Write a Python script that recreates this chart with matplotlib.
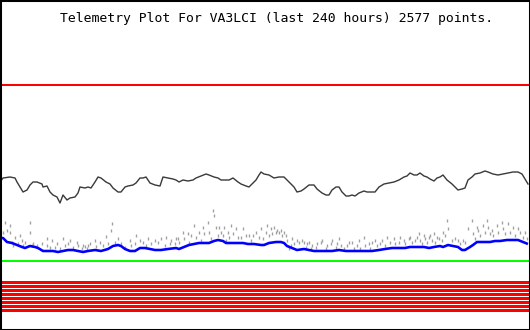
import matplotlib
matplotlib.use("Agg")
import matplotlib.pyplot as plt

# ---- data (x = sample column, y = plot level, top-down) ----
title_text = "Telemetry Plot For VA3LCI (last 240 hours) 2577 points."

red_top_level = 85
green_level = 261
red_stripe_levels = [281.5, 285.5, 289.5, 293.5, 297.5, 301.5, 305.5, 309.5]

black_x = [0, 3, 10, 15, 17, 20, 23, 27, 30, 33, 37, 42, 43, 47, 50, 53, 57, 60, 63, 67,
           70, 75, 78, 80, 85, 88, 91, 95, 98, 101, 106, 110, 113, 118, 121, 125, 128, 133,
           136, 140, 143, 146, 150, 155, 160, 163, 168, 173, 176, 179, 183, 188, 193, 196,
           201, 206, 209, 214, 218, 221, 226, 229, 233, 238, 241, 246, 249, 253, 256, 259,
           261, 264, 269, 274, 279, 284, 287, 291, 294, 297, 301, 304, 309, 314, 317, 322,
           326, 329, 332, 336, 339, 342, 346, 349, 352, 355, 359, 364, 367, 372, 375, 379,
           384, 389, 394, 399, 404, 407, 410, 414, 417, 420, 424, 427, 430, 434, 437, 440,
           443, 447, 452, 455, 458, 462, 465, 468, 472, 475, 480, 485, 488, 493, 498, 503,
           508, 513, 518, 522, 525, 528]
black_y = [182, 178, 177, 178, 182, 187, 192, 190, 185, 182, 182, 184, 187, 186, 192, 195,
           197, 203, 195, 200, 198, 197, 193, 187, 188, 187, 188, 182, 177, 178, 182, 184,
           188, 192, 192, 187, 186, 185, 183, 178, 178, 177, 183, 185, 186, 177, 178, 179,
           180, 182, 180, 181, 180, 178, 176, 174, 175, 177, 178, 180, 180, 180, 178, 182,
           184, 186, 187, 183, 180, 175, 172, 174, 175, 178, 177, 177, 180, 184, 187, 192,
           191, 189, 185, 185, 189, 193, 195, 195, 190, 187, 187, 192, 196, 196, 195, 196,
           193, 191, 192, 192, 192, 187, 184, 183, 182, 180, 177, 176, 173, 175, 175, 173,
           176, 177, 179, 181, 178, 177, 175, 180, 184, 187, 190, 189, 188, 180, 177, 174,
           173, 171, 172, 174, 175, 174, 173, 172, 172, 174, 179, 184]

blue_x = [0, 3, 7, 12, 17, 22, 25, 30, 35, 38, 43, 48, 53, 58, 63, 68, 73, 78, 83, 88, 95,
          101, 108, 113, 118, 121, 125, 130, 135, 140, 145, 150, 155, 161, 168, 176, 179,
          184, 189, 194, 199, 204, 209, 214, 218, 223, 226, 231, 238, 243, 248, 254, 261,
          264, 269, 276, 281, 284, 287, 292, 297, 304, 309, 314, 319, 326, 332, 339, 346,
          352, 359, 365, 372, 379, 385, 392, 399, 405, 410, 415, 420, 424, 429, 434, 440,
          443, 448, 453, 458, 462, 465, 470, 473, 477, 483, 490, 495, 500, 507, 513, 518,
          523, 528]
blue_y = [238, 238, 242, 243, 245, 247, 248, 246, 247, 248, 251, 251, 251, 252, 251, 250,
          250, 251, 252, 251, 250, 251, 249, 246, 245, 246, 249, 251, 251, 248, 248, 249,
          250, 250, 249, 248, 249, 247, 245, 244, 243, 243, 243, 241, 240, 241, 243, 243,
          243, 243, 244, 244, 245, 245, 243, 242, 242, 243, 246, 248, 250, 249, 250, 251,
          251, 251, 251, 250, 251, 251, 251, 251, 251, 250, 249, 248, 248, 248, 247, 247,
          247, 247, 248, 247, 246, 247, 245, 246, 247, 250, 250, 247, 245, 242, 242, 242,
          241, 241, 240, 240, 240, 242, 244]

gray_x = [3, 5, 7, 10, 10, 12, 13, 15, 18, 20, 22, 23, 25, 30, 30, 32, 33, 37, 42, 47, 47,
          50, 52, 55, 57, 60, 63, 65, 68, 70, 73, 77, 78, 82, 83, 85, 87, 88,
          90, 95, 96, 100, 103, 106, 108, 111, 112, 115, 118, 121, 125, 130, 131, 135, 136,
          140, 143, 146, 148, 151, 155, 158, 161, 165, 166, 170, 171, 175, 176,
          178, 179, 183, 184, 188, 189, 191, 194, 196, 199, 201, 203, 204, 208, 209, 211,
          213, 214, 216, 218, 219, 221, 223, 224, 226, 228, 229, 231, 233, 236, 238, 241,
          243, 246, 249, 251, 253, 256, 259, 261, 263,
          266, 267, 269, 271, 272, 274, 276, 277, 279, 281, 282, 284, 286, 287, 289, 291,
          292, 294, 297, 299, 302, 304, 306, 307, 309, 311, 312, 316, 317, 321, 322, 326,
          327, 331, 332, 336, 337, 339, 341, 344, 347, 349,
          352, 354, 357, 359, 360, 364, 365, 369, 370, 372, 375, 377, 380, 382, 385, 387,
          390, 394, 395, 399, 400, 404, 405, 409, 410, 412, 415, 417, 419, 420, 422, 424,
          425, 427, 429, 430, 432, 434, 435, 437, 439,
          442, 443, 445, 447, 448, 452, 455, 458, 460, 463, 465, 468, 472, 473, 475, 477,
          478, 480, 483, 485, 487, 488, 490, 492, 493, 497, 498, 502, 503, 505, 508, 510,
          513, 515, 518, 520, 523, 525, 527]
gray_y = [232, 222, 230, 225, 232, 242, 245, 237, 243, 235, 240, 245, 242, 222, 232, 245,
          243, 245, 243, 238, 245, 247, 240, 247, 243, 248, 238, 245, 243, 240, 247, 242,
          245, 248, 245, 246, 248, 245,
          243, 240, 246, 242, 245, 236, 243, 230, 223, 242, 238, 243, 247, 240, 245, 243,
          235, 240, 242, 245, 238, 243, 240, 242, 238, 245, 237, 243, 240, 243, 238,
          238, 242, 232, 238, 233, 242, 235, 225, 237, 232, 240, 227, 233, 222, 232, 238,
          210, 215, 227, 235, 227, 232, 235, 227, 240, 232, 237, 225, 233, 228, 237, 237,
          228, 235, 235, 240, 235, 232, 237, 228, 238,
          232, 225, 235, 228, 233, 227, 232, 230, 232, 230, 235, 232, 235, 240, 248, 245,
          238, 243, 240, 242, 240, 242, 247, 243, 242, 248, 245, 247, 243, 242, 240, 248,
          245, 243, 240, 247, 243, 238, 245, 248, 245, 242,
          242, 248, 245, 240, 248, 237, 245, 243, 248, 242, 240, 245, 243, 240, 245, 237,
          242, 238, 243, 242, 237, 240, 243, 238, 237, 242, 240, 237, 233, 240, 243, 235,
          238, 242, 237, 235, 240, 233, 242, 237, 238,
          240, 232, 235, 220, 228, 240, 238, 240, 243, 240, 242, 228, 220, 233, 238, 227,
          230, 235, 225, 232, 220, 227, 233, 230, 235, 225, 232, 222, 228, 233, 223, 232,
          227, 235, 228, 232, 237, 232, 238]

# ---- figure ----
W, H = 530, 330
fig = plt.figure(figsize=(W / 100, H / 100), dpi=100, facecolor="white")
ax = fig.add_axes([0, 0, 1, 1])
ax.set_xlim(0, W)
ax.set_ylim(H, 0)
ax.set_xticks([])
ax.set_yticks([])
for s in ax.spines.values():
    s.set_color("black")
    s.set_linewidth(2.2)

px = 0.72  # points per pixel at 100 dpi

ax.axhline(red_top_level, color="#ff0000", lw=2 * px, antialiased=False)
ax.axhline(green_level, color="#00ff00", lw=2 * px, antialiased=False)
for lvl in red_stripe_levels:
    ax.axhline(lvl, color="#ff0000", lw=3 * px, antialiased=False)

ax.plot(gray_x, gray_y, linestyle="none", marker="|", markersize=3 * px,
        markeredgewidth=1.35 * px, color="#a0a0a0", antialiased=False)
ax.plot(blue_x, blue_y, color="#0000ff", lw=2.6 * px, solid_capstyle="butt")
ax.plot(black_x, black_y, color="#3a3a3a", lw=1.4 * px)

ax.text(60, 22, title_text, family="DejaVu Sans Mono", fontsize=9.42,
        color="black", ha="left", va="baseline")

fig.savefig("out.png", dpi=100, facecolor="white")
